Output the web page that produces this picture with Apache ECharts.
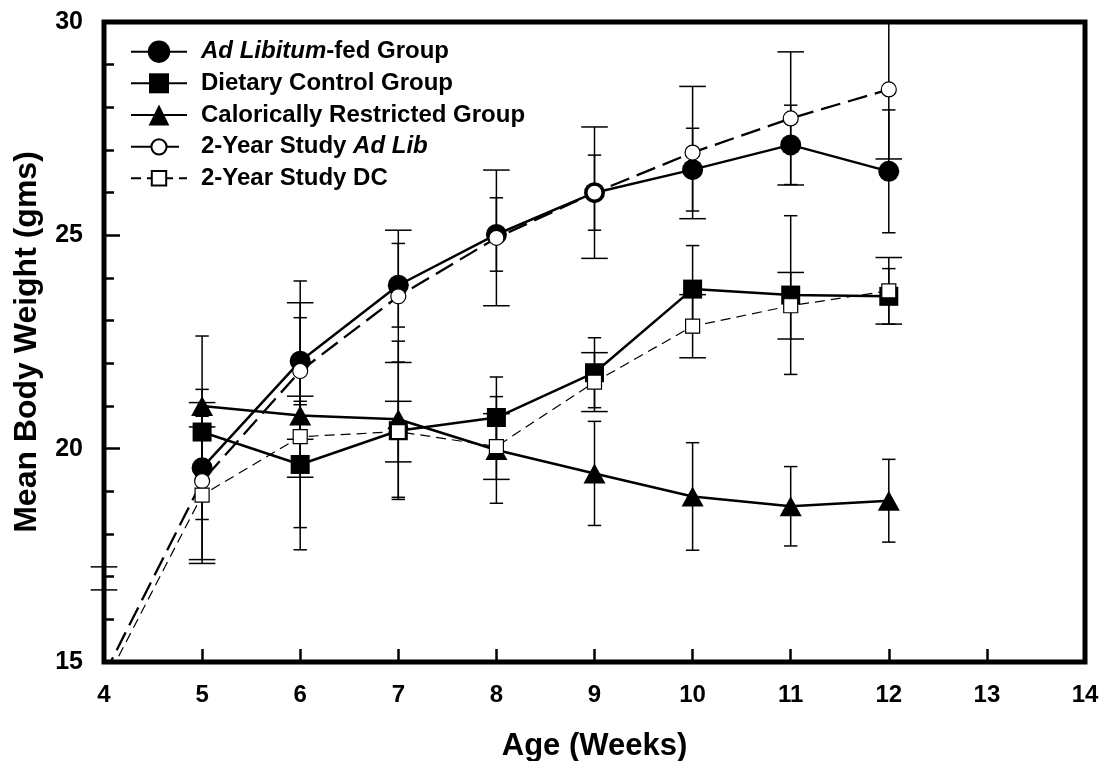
<!DOCTYPE html>
<html>
<head>
<meta charset="utf-8">
<script src="https://cdn.jsdelivr.net/npm/echarts@6/dist/echarts.min.js"></script>
<style>
html,body{margin:0;padding:0;background:#fff;}
#chart{width:1110px;height:761px;}
</style>
</head>
<body>
<div id="chart"></div>
<script>
// ---- data ----
var weeks = [5, 6, 7, 8, 9, 10, 11, 12];
var weeks2yr = [4, 5, 6, 7, 8, 9, 10, 11, 12];
var adLib = [19.55, 22.05, 23.83, 25.02, 26.0, 26.54, 27.12, 26.5];
var adLibErr = [1.21, 1.02, 0.98, 0.86, 0.88, 0.97, 0.93, 1.44];
var dietCtrl = [20.39, 19.63, 20.42, 20.73, 21.78, 23.74, 23.60, 23.57];
var dietCtrlErr = [1.0, 1.48, 1.61, 0.95, 0.82, 1.02, 1.86, 0.65];
var calRestr = [21.0, 20.78, 20.69, 19.97, 19.42, 18.88, 18.65, 18.78];
var calRestrErr = [1.64, 3.15, 1.83, 1.25, 1.22, 1.26, 0.93, 0.97];
var twoYrAdLib = [14.69, 19.24, 21.82, 23.57, 24.94, 26.0, 26.94, 27.74, 28.42];
var twoYrAdLibErr = [2.54, 1.84, 1.6, 1.55, 1.59, 1.54, 1.55, 1.56, 1.63];
var twoYrDC = [14.47, 18.91, 20.28, 20.40, 20.05, 21.56, 22.87, 23.35, 23.70];
var twoYrDCErr = [2.22, 1.6, 0.95, 0.71, 0.77, 0.69, 0.74, 0.78, 0.78];
var seriesNames = ['Ad Libitum-fed Group', 'Dietary Control Group', 'Calorically Restricted Group', '2-Year Study Ad Lib', '2-Year Study DC'];
var legendLabels = ['{i|Ad Libitum}-fed Group', 'Dietary Control Group', 'Calorically Restricted Group', '2-Year Study {i|Ad Lib}', '2-Year Study DC'];
var xTicks = [4, 14, 1];
var yTicks = [15, 30, 5];

// ---- helpers ----
function pairs(xs, ys) { return xs.map(function (x, i) { return [x, ys[i]]; }); }
function triples(xs, ys, es) { return xs.map(function (x, i) { return [x, ys[i], es[i]]; }); }

var FONT = '"Liberation Sans", Arial, sans-serif';

function errorBarSeries(xs, ys, es, capHalf) {
  return {
    type: 'custom',
    z: 1,
    silent: true,
    data: triples(xs, ys, es),
    encode: { x: 0, y: 1 },
    renderItem: function (params, api) {
      var x = api.value(0), v = api.value(1), e = api.value(2);
      var top = api.coord([x, v + e]);
      var bot = api.coord([x, v - e]);
      var cs = params.coordSys;
      var yMin = cs.y, yMax = cs.y + cs.height;
      var st = { stroke: '#000', lineWidth: 1.5 };
      var ch = [];
      var y1 = Math.max(top[1], yMin), y2 = Math.min(bot[1], yMax);
      if (y1 < y2) ch.push({ type: 'line', shape: { x1: top[0], y1: y1, x2: top[0], y2: y2 }, style: st });
      if (top[1] >= yMin - 0.5 && top[1] <= yMax) ch.push({ type: 'line', shape: { x1: top[0] - capHalf, y1: top[1], x2: top[0] + capHalf, y2: top[1] }, style: st });
      if (bot[1] <= yMax + 0.5 && bot[1] >= yMin) ch.push({ type: 'line', shape: { x1: bot[0] - capHalf, y1: bot[1], x2: bot[0] + capHalf, y2: bot[1] }, style: st });
      return { type: 'group', children: ch };
    }
  };
}

function lineSeries(name, xs, ys, symbol, size, filled, lineWidth, dash) {
  return {
    type: 'line',
    name: name,
    z: 2,
    clip: true,
    data: pairs(xs, ys),
    symbol: symbol,
    symbolSize: size,
    showAllSymbol: true,
    itemStyle: filled ? { color: '#000', borderColor: '#000', borderWidth: 0 } : { color: '#fff', borderColor: '#000', borderWidth: 1.2 },
    lineStyle: { color: '#000', width: lineWidth, type: dash || 'solid' },
    emphasis: { disabled: true }
  };
}

var legendCenters = [51.7, 83.3, 115, 146.8, 178.3];
var legendItemH = [28, 25, 26, 19, 18];
var legends = seriesNames.map(function (n, i) {
  return {
    data: [n],
    left: 130,
    top: legendCenters[i] - 14,
    padding: 0,
    orient: 'vertical',
    itemWidth: 56,
    itemHeight: legendItemH[i],
    selectedMode: false,
    formatter: function () { return legendLabels[i]; },
    textStyle: {
      fontFamily: FONT, fontSize: 24, fontWeight: 'bold', color: '#000', lineHeight: 28,
      padding: [0, 0, 0, 9],
      rich: { i: { fontFamily: FONT, fontSize: 24, fontWeight: 'bold', fontStyle: 'italic', color: '#000', lineHeight: 28 } }
    }
  };
});

var option = {
  animation: false,
  backgroundColor: '#fff',
  legend: legends,
  grid: {
    left: 104, right: 25, top: 22, bottom: 99,
    show: true, borderColor: '#000', borderWidth: 5, backgroundColor: 'transparent',
    containLabel: false, outerBoundsMode: 'none'
  },
  xAxis: {
    type: 'value',
    min: xTicks[0], max: xTicks[1], interval: xTicks[2],
    name: 'Age (Weeks)', nameLocation: 'middle', nameGap: 69,
    nameTextStyle: { fontFamily: FONT, fontSize: 31, fontWeight: 'bold', color: '#000', lineHeight: 30 },
    axisLine: { show: false },
    axisTick: { show: true, inside: true, length: 13, lineStyle: { color: '#000', width: 2.5 } },
    axisLabel: { margin: 21, fontFamily: FONT, fontSize: 24, fontWeight: 'bold', color: '#000', showMinLabel: true, showMaxLabel: true },
    splitLine: { show: false }
  },
  yAxis: {
    type: 'value',
    min: yTicks[0], max: yTicks[1], interval: yTicks[2],
    name: 'Mean Body Weight (gms)', nameLocation: 'middle', nameGap: 61,
    nameTextStyle: { fontFamily: FONT, fontSize: 32, fontWeight: 'bold', color: '#000', lineHeight: 32 },
    axisLine: { show: false },
    axisTick: { show: true, inside: true, length: 16, lineStyle: { color: '#000', width: 2.5 } },
    minorTick: { show: true, splitNumber: 5, length: 10, lineStyle: { color: '#000', width: 2.5 } },
    axisLabel: { margin: 21, fontFamily: FONT, fontSize: 25, fontWeight: 'bold', color: '#000', showMinLabel: true, showMaxLabel: true },
    splitLine: { show: false },
    minorSplitLine: { show: false }
  },
  series: [
    errorBarSeries(weeks, adLib, adLibErr, 6.7),
    errorBarSeries(weeks, dietCtrl, dietCtrlErr, 6.7),
    errorBarSeries(weeks, calRestr, calRestrErr, 6.7),
    errorBarSeries(weeks2yr, twoYrAdLib, twoYrAdLibErr, 13.3),
    errorBarSeries(weeks2yr, twoYrDC, twoYrDCErr, 13.3),
    lineSeries(seriesNames[0], weeks, adLib, 'circle', 21, true, 2.5),
    lineSeries(seriesNames[1], weeks, dietCtrl, 'rect', 19, true, 2.5),
    lineSeries(seriesNames[2], weeks, calRestr, 'triangle', [22, 20], true, 2.5),
    lineSeries(seriesNames[3], weeks2yr, twoYrAdLib, 'circle', 15, false, 2.3, [20, 8]),
    lineSeries(seriesNames[4], weeks2yr, twoYrDC, 'rect', 14, false, 1.2, [10, 6])
  ]
};

var chart = echarts.init(document.getElementById('chart'), null, { renderer: 'canvas' });
chart.setOption(option);
</script>
</body>
</html>
